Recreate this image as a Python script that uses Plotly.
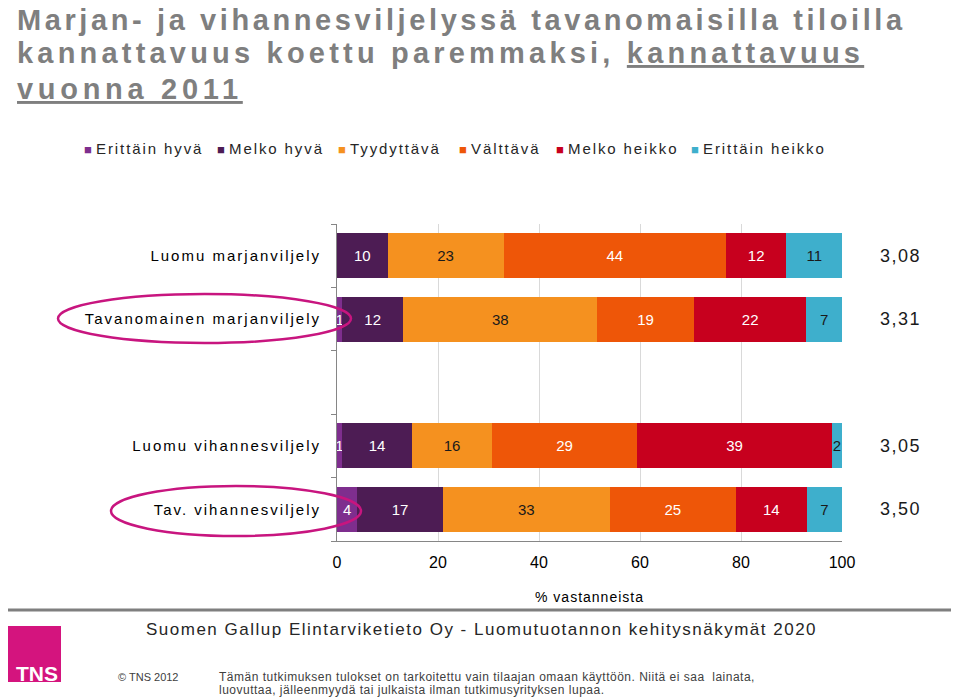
import plotly.graph_objects as go

# ---------------- data ----------------
categories = ["Luomu marjanviljely", "Tavanomainen marjanviljely", " ",
              "Luomu vihannesviljely", "Tav. vihannesviljely"]
series_names = ["Erittäin hyvä", "Melko hyvä", "Tyydyttävä",
                "Välttävä", "Melko heikko", "Erittäin heikko"]
erittain_hyva = [0, 1, None, 1, 4]
melko_hyva = [10, 12, None, 14, 17]
tyydyttava = [23, 38, None, 16, 33]
valttava = [44, 19, None, 29, 25]
melko_heikko = [12, 22, None, 39, 14]
erittain_heikko = [11, 7, None, 2, 7]
means = ["3,08", "3,31", None, "3,05", "3,50"]
x_ticks = [0, 20, 40, 60, 80, 100]
title_lines = ["Marjan- ja vihannesviljelyssä tavanomaisilla tiloilla",
               "kannattavuus koettu paremmaksi, <u>kannattavuus</u>",
               "<u>vuonna 2011</u>"]

series_values = [erittain_hyva, melko_hyva, tyydyttava, valttava,
                 melko_heikko, erittain_heikko]
colors = ["#7E2E8E", "#4D1C54", "#F5911F", "#EE5608", "#C7001E", "#3EAFCC"]
text_colors = ["#FFFFFF", "#FFFFFF", "#1A1A1A", "#FFFFFF", "#FFFFFF", "#1A1A1A"]

OFF = 8                     # page body margin
W, H = 959, 699             # window size
L, R, T, B = 337, 842, 224, 541  # plot area in window pixels
FONT = "Liberation Sans, Arial, sans-serif"


def px(x):
    return (x - L) / (R - L)


def py(y):
    return (B - y) / (B - T)


def sp(text, ls):
    return f'<span style="letter-spacing:{ls}px">{text}</span>'


fig = go.Figure()
for name, vals, col, tcol in zip(series_names, series_values, colors, text_colors):
    fig.add_trace(go.Bar(
        y=categories, x=vals, name=name, orientation="h",
        marker=dict(color=col, line=dict(width=0)),
        width=0.71,
        text=[("" if v in (None, 0) else str(v)) for v in vals],
        texttemplate="%{text}",
        textposition="inside", insidetextanchor="middle",
        constraintext="none",
        textfont=dict(family=FONT, size=15, color=tcol),
        showlegend=False,
    ))

fig.update_layout(
    width=W - OFF, height=H - OFF,
    margin=dict(l=L - OFF, r=W - R, t=T - OFF, b=H - B),
    barmode="stack", barnorm="percent", bargap=0.29,
    plot_bgcolor="white", paper_bgcolor="white",
    font=dict(family=FONT, color="#000000"),
    xaxis=dict(range=[0, 100], tickvals=x_ticks, showgrid=True,
               gridcolor="#D9D9D9", gridwidth=1, zeroline=False,
               showline=True, linecolor="#868686", linewidth=1,
               ticks="", ticklabelstandoff=7,
               tickfont=dict(size=16, color="#000000"),
               title=dict(text=sp("% vastanneista", 1),
                          font=dict(size=14, color="#000000"), standoff=21)),
    yaxis=dict(type="category", categoryorder="array", categoryarray=categories,
               range=[4.5, -0.5], tickvals=categories,
               ticktext=[sp(c, 2) for c in categories],
               tickson="boundaries", ticks="outside", ticklen=5,
               tickcolor="#868686", showgrid=False, zeroline=False,
               showline=True, linecolor="#868686", linewidth=1,
               ticklabelstandoff=12,
               tickfont=dict(size=15, color="#000000")),
)

ann = []
# title (one annotation per line)
for line, cy, ls in zip(title_lines, [20, 53, 89], [3.6, 4.2, 4.7]):
    ann.append(dict(
        text=sp(f"<b>{line}</b>", ls),
        x=px(16), y=py(cy), xref="paper", yref="paper",
        xanchor="left", yanchor="middle", align="left", showarrow=False,
        borderpad=0,
        font=dict(size=29, color="#7F7F7F", family=FONT)))

# legend (coloured squares + names)
legend_x = [84, 217, 338, 459, 556, 691]
for name, col, lx in zip(series_names, colors, legend_x):
    ann.append(dict(
        text=f'<span style="color:{col};font-size:13px">■</span> ' + sp(name, 1.9),
        x=px(lx - 2), y=py(149), xref="paper", yref="paper",
        xanchor="left", yanchor="middle", showarrow=False,
        font=dict(size=15, color="#262626", family=FONT)))

# mean values on the right
for c, m in zip(categories, means):
    if m is None:
        continue
    ann.append(dict(text=sp(m, 1.5), x=px(900), y=c, xref="paper", yref="y",
                    xanchor="center", yanchor="middle", showarrow=False,
                    font=dict(size=18, color="#1A1A1A", family=FONT)))

# footer texts
ann.append(dict(text=sp("Suomen Gallup Elintarviketieto Oy - Luomutuotannon kehitysnäkymät 2020", 1.5),
                x=px(144), y=py(629), xref="paper", yref="paper",
                xanchor="left", yanchor="middle", showarrow=False,
                font=dict(size=17, color="#262626", family=FONT)))
ann.append(dict(text="© TNS 2012", x=px(116), y=py(677), xref="paper", yref="paper",
                xanchor="left", yanchor="middle", showarrow=False,
                font=dict(size=11, color="#404040", family=FONT)))
ann.append(dict(text=sp("Tämän tutkimuksen tulokset on tarkoitettu vain tilaajan omaan käyttöön. Niitä ei saa  lainata,", 0.5),
                x=px(217), y=py(677), xref="paper", yref="paper",
                xanchor="left", yanchor="middle", showarrow=False,
                font=dict(size=12, color="#404040", family=FONT)))
ann.append(dict(text=sp("luovuttaa, jälleenmyydä tai julkaista ilman tutkimusyrityksen lupaa.", 0.5),
                x=px(217), y=py(690), xref="paper", yref="paper",
                xanchor="left", yanchor="middle", showarrow=False,
                font=dict(size=12, color="#404040", family=FONT)))
ann.append(dict(text="<b>TNS</b>", x=px(37), y=py(673), xref="paper", yref="paper",
                xanchor="center", yanchor="middle", showarrow=False,
                font=dict(size=21, color="#FFFFFF",
                          family="Liberation Sans Narrow, Arial Narrow, sans-serif")))

fig.update_layout(annotations=ann)

shapes = [
    # highlight ellipses
    dict(type="circle", xref="paper", yref="paper",
         x0=px(58), x1=px(351), y0=py(343), y1=py(294),
         line=dict(color="#C8157F", width=2.5), layer="above"),
    dict(type="circle", xref="paper", yref="paper",
         x0=px(111), x1=px(361), y0=py(536), y1=py(486),
         line=dict(color="#C8157F", width=2.5), layer="above"),
    # footer separator
    dict(type="line", xref="paper", yref="paper",
         x0=px(5), x1=px(955), y0=py(610), y1=py(610),
         line=dict(color="#7F7F7F", width=3)),
    # TNS logo square
    dict(type="rect", xref="paper", yref="paper",
         x0=px(5), x1=px(61), y0=py(682), y1=py(626),
         fillcolor="#D4147E", line=dict(width=0), layer="below"),
]
fig.update_layout(shapes=shapes)

fig.write_html("out.html")
